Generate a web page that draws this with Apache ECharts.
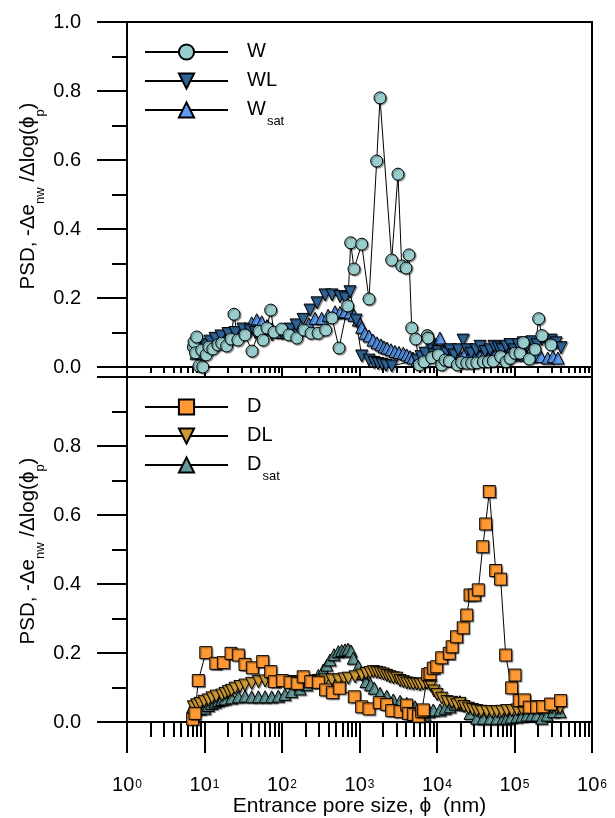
<!DOCTYPE html>
<html>
<head>
<meta charset="utf-8">
<script src="https://cdn.jsdelivr.net/npm/echarts@6/dist/echarts.min.js"></script>
<style>
  html, body { margin: 0; padding: 0; background: #fff; }
  #chart { width: 615px; height: 818px; }
</style>
</head>
<body>
<div id="chart"></div>
<script>
// pore size (nm), PSD value
const wPoints = [
  [7.2, 0.058], [7.33, 0.073], [7.66, 0.041], [7.93, 0.087], [8.49, 0.003], [9.2, 0.049], [9.5, 0.0],
  [10.5, 0.035], [11.4, 0.058], [12.8, 0.052], [14.9, 0.064], [16.7, 0.069], [19.3, 0.061], [22.0, 0.081],
  [24.0, 0.153], [27.0, 0.078], [33.3, 0.093], [41.0, 0.046], [50.5, 0.104], [56.9, 0.078], [64.0, 0.113],
  [71.5, 0.165], [78.8, 0.101], [99, 0.110], [123, 0.093], [155, 0.084], [192, 0.107], [237, 0.098],
  [292, 0.098], [366, 0.107], [442, 0.142], [544, 0.055], [705, 0.177], [770, 0.360], [849, 0.284],
  [1067, 0.356], [1326, 0.197], [1667, 0.597], [1840, 0.780], [2603, 0.310], [3138, 0.559], [3505, 0.293],
  [3981, 0.287], [4353, 0.325], [4717, 0.113], [5311, 0.081], [5912, 0.006], [6800, 0.015], [7500, 0.091],
  [7650, 0.084], [8550, 0.027], [10400, 0.035], [11500, 0.006], [12700, 0.020], [14400, 0.017],
  [18300, 0.006], [20800, 0.013], [24200, 0.011], [28000, 0.011], [32600, 0.012], [39600, 0.015],
  [45900, 0.015], [53200, 0.017], [66300, 0.030], [77700, 0.015], [87500, 0.025], [101500, 0.040],
  [117700, 0.040], [130000, 0.071], [155000, 0.023], [184000, 0.051], [205000, 0.140], [226000, 0.091],
  [296000, 0.064]
];
const wlPoints = [
  [7.77, 0.04], [8.75, 0.055], [10.1, 0.065], [11.8, 0.075], [13.7, 0.083], [16.3, 0.09], [20.1, 0.097],
  [24.8, 0.10], [31.4, 0.11], [38.6, 0.105], [44.9, 0.10], [55.2, 0.093], [74.3, 0.093], [100, 0.097],
  [127, 0.11], [152, 0.122], [187, 0.138], [230, 0.165], [283, 0.186], [359, 0.209], [442, 0.209],
  [560, 0.204], [650, 0.20], [754, 0.218], [901, 0.136], [1067, 0.032], [1326, 0.02], [1538, 0.013],
  [1734, 0.01], [1950, 0.008], [2198, 0.005], [2603, 0.003], [5520, 0.02], [6220, 0.03], [7000, 0.04],
  [8130, 0.064], [9150, 0.035], [10300, 0.045], [11600, 0.03], [13100, 0.04], [14700, 0.05],
  [16600, 0.035], [18700, 0.05], [21700, 0.078], [24400, 0.05], [27500, 0.04], [31900, 0.05],
  [35900, 0.06], [41600, 0.045], [48300, 0.05], [54400, 0.06], [61300, 0.055], [69000, 0.05],
  [77700, 0.06], [87500, 0.065], [98600, 0.05], [111000, 0.065], [129000, 0.07], [145000, 0.06],
  [168000, 0.073], [195000, 0.065], [226000, 0.08], [263000, 0.075], [296000, 0.078], [343000, 0.07],
  [398000, 0.056]
];
const wsatPoints = [
  [7.77, 0.04], [8.75, 0.05], [10.1, 0.06], [11.8, 0.07], [13.7, 0.078], [16.3, 0.085], [20.1, 0.09],
  [24.8, 0.095], [28.7, 0.105], [33.3, 0.112], [40.6, 0.128], [47.2, 0.137], [54.7, 0.131], [64, 0.12],
  [74.3, 0.11], [100, 0.10], [127, 0.10], [152, 0.105], [187, 0.11], [223, 0.125], [267, 0.141],
  [325, 0.141], [393, 0.15], [483, 0.160], [560, 0.158], [650, 0.160], [754, 0.157], [849, 0.15],
  [965, 0.136], [1067, 0.115], [1178, 0.098], [1326, 0.09], [1493, 0.078], [1683, 0.07], [1894, 0.064],
  [2070, 0.058], [2264, 0.055], [2548, 0.05], [2870, 0.045], [3233, 0.042], [3675, 0.040], [4064, 0.035],
  [4485, 0.03], [4900, 0.026], [5520, 0.02], [6220, 0.025], [7000, 0.035], [8130, 0.05], [9420, 0.06],
  [10900, 0.084], [12700, 0.045], [14700, 0.04], [17100, 0.035], [19800, 0.03], [23000, 0.04],
  [26700, 0.035], [30900, 0.03], [35900, 0.035], [41600, 0.04], [48300, 0.035], [56000, 0.04],
  [65000, 0.045], [75400, 0.04], [87500, 0.045], [101000, 0.035], [118000, 0.04], [137000, 0.035],
  [159000, 0.03], [189000, 0.035], [220000, 0.03], [268000, 0.026], [314000, 0.03], [364000, 0.026]
];
const dPoints = [
  [7.04, 0.008], [7.54, 0.025], [8.32, 0.120], [10.4, 0.201], [14.0, 0.170], [17.5, 0.172], [22.0, 0.199],
  [27.3, 0.194], [33.3, 0.167], [41.4, 0.157], [56.4, 0.175], [71.5, 0.146], [79.6, 0.117], [101, 0.120],
  [127, 0.115], [157, 0.112], [188, 0.131], [235, 0.117], [294, 0.115], [366, 0.093], [446, 0.085],
  [549, 0.098], [857, 0.073], [1067, 0.044], [1326, 0.038], [1800, 0.056], [2244, 0.051], [2603, 0.033],
  [3333, 0.030], [4064, 0.049], [4266, 0.025], [4943, 0.022], [5741, 0.017], [6350, 0.030], [6660, 0.035],
  [7590, 0.138], [8130, 0.14], [8960, 0.156], [9910, 0.160], [11500, 0.186], [14400, 0.199],
  [15700, 0.218], [17900, 0.247], [21800, 0.273], [24200, 0.310], [26700, 0.368], [30300, 0.368],
  [34100, 0.383], [38900, 0.508], [42500, 0.574], [47300, 0.668], [57200, 0.439], [66300, 0.414],
  [77000, 0.194], [92000, 0.099], [101500, 0.136], [115000, 0.062], [134000, 0.064], [155000, 0.043],
  [193000, 0.043], [231000, 0.044], [293000, 0.052], [394000, 0.062]
];
const dlPoints = [
  [7.17, 0.044], [7.93, 0.05], [8.75, 0.054], [9.86, 0.06], [11.2, 0.064], [12.5, 0.07], [14.1, 0.075],
  [16.7, 0.078], [18.4, 0.083], [20.3, 0.088], [22.3, 0.092], [24.8, 0.098], [28.7, 0.103], [33.3, 0.107],
  [40.6, 0.112], [49.5, 0.117], [60.4, 0.119], [73.6, 0.118], [89.6, 0.117], [115, 0.117], [147, 0.117],
  [188, 0.118], [242, 0.119], [294, 0.12], [359, 0.122], [438, 0.122], [533, 0.122], [631, 0.125],
  [716, 0.127], [875, 0.131], [1067, 0.136], [1213, 0.141], [1366, 0.143], [1507, 0.146], [1667, 0.144],
  [1840, 0.142], [2030, 0.139], [2244, 0.135], [2475, 0.131], [2731, 0.128], [3020, 0.127], [3333, 0.12],
  [3675, 0.117], [4064, 0.113], [4485, 0.112], [4943, 0.110], [5470, 0.110], [6040, 0.108], [6660, 0.110],
  [7430, 0.112], [8300, 0.105], [9150, 0.09], [10000, 0.08], [11500, 0.069], [13400, 0.059],
  [15500, 0.057], [17900, 0.05], [19800, 0.054], [22300, 0.045], [25300, 0.040], [28700, 0.036],
  [32500, 0.033], [37000, 0.031], [43800, 0.030], [50800, 0.030], [58900, 0.030], [68400, 0.031],
  [79300, 0.033], [92000, 0.033], [107000, 0.035], [124000, 0.037], [144000, 0.040], [167000, 0.042],
  [193000, 0.044], [224000, 0.044], [260000, 0.044], [302000, 0.042], [350000, 0.04], [386000, 0.04]
];
const dsatPoints = [
  [7.04, 0.044], [7.77, 0.04], [8.75, 0.038], [10.1, 0.04], [11.2, 0.048], [12.4, 0.054], [13.7, 0.058],
  [15.1, 0.062], [16.7, 0.065], [18.4, 0.067], [22.4, 0.07], [27.3, 0.073], [33.3, 0.075], [40.6, 0.073],
  [49.5, 0.073], [60.4, 0.073], [73.6, 0.073], [89.6, 0.075], [109, 0.080], [133, 0.088], [171, 0.096],
  [208, 0.108], [254, 0.122], [294, 0.135], [341, 0.151], [378, 0.165], [416, 0.180], [469, 0.195],
  [533, 0.204], [589, 0.207], [650, 0.209], [711, 0.211], [777, 0.206], [831, 0.185], [965, 0.161],
  [1094, 0.14], [1213, 0.117], [1386, 0.108], [1552, 0.098], [1840, 0.083], [2244, 0.075], [2731, 0.064],
  [3333, 0.06], [4064, 0.054], [4485, 0.05], [5200, 0.044], [6040, 0.035], [7000, 0.020], [7890, 0.03],
  [8960, 0.035], [10900, 0.035], [12700, 0.04], [14700, 0.044], [17100, 0.052], [19800, 0.059],
  [23000, 0.05], [26700, 0.025], [32500, 0.011], [39300, 0.011], [48300, 0.011], [58900, 0.011],
  [71100, 0.011], [79300, 0.011], [90100, 0.014], [107000, 0.015], [124000, 0.017], [144000, 0.020],
  [167000, 0.02], [193000, 0.020], [224000, 0.011], [263000, 0.02], [317000, 0.030], [386000, 0.030]
];

const topNames = ['W', 'WL', 'Wsat'];
const bottomNames = ['D', 'DL', 'Dsat'];
const yTicks = [0, 0.2, 0.4, 0.6, 0.8, 1.0];

// minor ticks 2..9 per decade, in log10 units for the overlay axis
const minorTicks = [];
for (let k = 0; k < 6; k++) {
  for (let m = 2; m <= 9; m++) minorTicks.push(Math.log10(m * Math.pow(10, k)));
}

const chart = echarts.init(document.getElementById('chart'), null, { renderer: 'canvas' });
const font = 'Liberation Sans, Arial, sans-serif';

const legendFormatter = name => {
  if (name.endsWith('sat')) return '{m|' + name.slice(0, -3) + '}{s|sat}';
  return '{m|' + name + '}';
};
const legendRich = {
  m: { fontSize: 20, fontFamily: font, color: '#000', lineHeight: 22, verticalAlign: 'top' },
  s: { fontSize: 13, fontFamily: font, color: '#000', lineHeight: 14, padding: [16, 0, 0, 1], verticalAlign: 'top' }
};

const makeLegend = (names, top) => ({
  data: names,
  orient: 'vertical',
  left: 144,
  top,
  padding: 0,
  itemWidth: 83,
  itemHeight: 19,
  itemGap: 9,
  formatter: legendFormatter,
  textStyle: { fontSize: 20, fontFamily: font, color: '#000', padding: [0, 0, 0, 14], rich: legendRich }
});

const markerShadow = { shadowColor: 'rgba(0,0,0,0.4)', shadowOffsetX: 1.2, shadowOffsetY: 1.2, shadowBlur: 1 };

const lineSeries = (name, data, idx, symbol, rotate, fill) => ({
  name,
  type: 'line',
  data,
  xAxisIndex: idx === 0 ? 0 : 2,
  yAxisIndex: idx,
  symbol,
  symbolRotate: rotate,
  symbolSize: 12,
  showAllSymbol: true,
  lineStyle: { color: '#000', width: 1 },
  itemStyle: Object.assign({ color: fill, borderColor: '#000', borderWidth: 1 }, markerShadow),
  emphasis: { disabled: true },
  z: 2
});

const logAxis = (gridIndex, major, showLabels) => ({
  type: 'log',
  logBase: 10,
  gridIndex,
  min: 1,
  max: 1e6,
  position: 'bottom',
  axisLine: { show: true, lineStyle: { color: '#000', width: 2 } },
  axisTick: { show: true, length: major, lineStyle: { color: '#000', width: 2 } },
  splitLine: { show: false },
  minorTick: { show: false },
  axisLabel: {
    show: showLabels,
    margin: 53,
    formatter: v => '{b|10}{e|' + Math.round(Math.log10(v)) + '}',
    rich: {
      b: { fontSize: 20, fontFamily: font, color: '#000', verticalAlign: 'middle' },
      e: { fontSize: 12, fontFamily: font, color: '#000', verticalAlign: 'middle', padding: [0, 0, 0, 1] }
    }
  },
  name: showLabels ? 'Entrance pore size, \u03d5  (nm)' : '',
  nameLocation: 'middle',
  nameGap: 74,
  nameTextStyle: { fontSize: 21, fontFamily: font, color: '#000', verticalAlign: 'top' }
});

const minorAxis = (gridIndex, len) => ({
  type: 'value',
  gridIndex,
  min: 0,
  max: 6,
  position: 'bottom',
  axisLine: { show: false },
  axisLabel: { show: false },
  splitLine: { show: false },
  axisTick: { show: true, length: len, customValues: minorTicks, lineStyle: { color: '#000', width: 2 } }
});

const yAxis = (gridIndex, hideTop) => ({
  type: 'value',
  gridIndex,
  min: 0,
  max: 1,
  interval: 0.2,
  axisLine: { show: true, lineStyle: { color: '#000', width: 2 } },
  axisTick: { show: true, length: 30, lineStyle: { color: '#000', width: 2 } },
  minorTick: { show: true, splitNumber: 2, length: 15, lineStyle: { color: '#000', width: 2 } },
  splitLine: { show: false },
  axisLabel: {
    margin: 46,
    fontSize: 20,
    fontFamily: font,
    color: '#000',
    customValues: hideTop ? yTicks.slice(0, -1) : yTicks,
    formatter: v => v.toFixed(1)
  }
});

const yName = '{m|PSD, -\u0394e}{s|nw}{m| /\u0394log(\u03d5}{s|p}{m|)}';
const yRich = {
  m: { fontSize: 20.5, fontFamily: font, fill: '#000', lineHeight: 22, verticalAlign: 'top' },
  s: { fontSize: 13, fontFamily: font, fill: '#000', lineHeight: 14, padding: [16, 0, 0, 0], verticalAlign: 'top' }
};
const yNameGraphic = y => ({
  type: 'text',
  x: 29,
  y,
  rotation: Math.PI / 2,
  style: { text: yName, rich: yRich, align: 'center', verticalAlign: 'middle', fill: '#000' },
  silent: true
});

chart.setOption({
  animation: false,
  backgroundColor: '#fff',
  grid: [
    { left: 127, width: 465, top: 22, height: 345, show: true, borderColor: '#000', borderWidth: 2, containLabel: false },
    { left: 127, width: 465, top: 377, height: 345, show: true, borderColor: '#000', borderWidth: 2, containLabel: false }
  ],
  legend: [makeLegend(topNames, 41), makeLegend(bottomNames, 396)],
  xAxis: [logAxis(0, 11, false), minorAxis(0, 6), logAxis(1, 31, true), minorAxis(1, 15)],
  yAxis: [yAxis(0, false), yAxis(1, true)],
  graphic: [yNameGraphic(196), yNameGraphic(551)],
  series: [
    lineSeries('Wsat', wsatPoints, 0, 'triangle', 0, '#5E9CF2'),
    lineSeries('WL', wlPoints, 0, 'triangle', 180, '#2F6396'),
    lineSeries('W', wPoints, 0, 'circle', 0, '#99CCCC'),
    lineSeries('Dsat', dsatPoints, 1, 'triangle', 0, '#669999'),
    lineSeries('DL', dlPoints, 1, 'triangle', 180, '#CC9933'),
    lineSeries('D', dPoints, 1, 'rect', 0, '#FF9933')
  ]
});
</script>
</body>
</html>
